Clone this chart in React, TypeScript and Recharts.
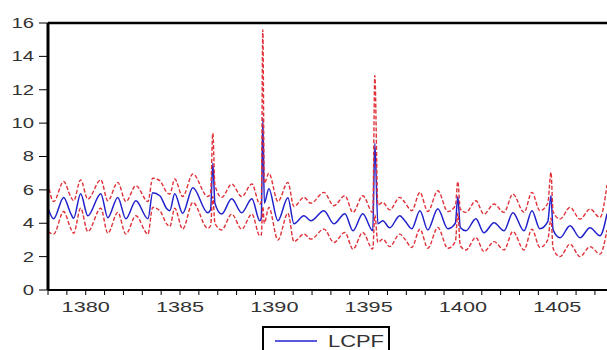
import { LineChart, Line, XAxis, YAxis, ReferenceLine } from 'recharts'

// turning points (year, LCPF, +2 S.E., -2 S.E.)
const years = [
  1378.00, 1378.30, 1378.83, 1379.20, 1379.36, 1379.73, 1380.11, 1380.80, 1381.17, 1381.70,
  1382.13, 1382.66, 1383.30, 1383.55, 1383.93, 1384.30, 1384.46, 1384.72, 1385.14, 1385.68,
  1386.47, 1386.62, 1386.74, 1386.85, 1387.21, 1387.74, 1388.27, 1388.81, 1389.23, 1389.31,
  1389.39, 1389.47, 1389.71, 1390.19, 1390.72, 1391.04, 1391.57, 1391.94, 1392.63, 1393.16,
  1393.74, 1394.17, 1394.69, 1395.22, 1395.33, 1395.49, 1395.75, 1396.12, 1396.65, 1396.92,
  1397.29, 1397.72, 1398.14, 1398.67, 1399.20, 1399.60, 1399.73, 1399.86, 1400.16, 1400.69,
  1401.11, 1401.65, 1402.18, 1402.65, 1403.24, 1403.66, 1404.08, 1404.50, 1404.67, 1404.78,
  1405.15, 1405.68, 1406.21, 1406.74, 1407.27, 1407.64,
]
const lcpf = [
  4.90, 4.27, 5.55, 4.60, 4.30, 5.77, 4.45, 5.77, 4.33, 5.55,
  4.27, 5.35, 4.27, 5.83, 5.65, 4.87, 4.75, 5.77, 4.60, 6.13,
  4.63, 4.80, 7.60, 5.20, 4.55, 5.47, 4.63, 5.47, 4.15, 4.30,
  10.30, 5.20, 6.07, 4.15, 5.53, 3.97, 4.45, 4.15, 4.75, 3.97,
  4.57, 3.55, 4.57, 3.55, 8.80, 3.97, 4.15, 3.73, 4.45, 4.15,
  3.67, 4.75, 3.60, 4.87, 3.67, 4.00, 5.60, 3.75, 3.55, 4.27,
  3.43, 4.03, 3.55, 4.63, 3.55, 4.75, 3.67, 4.10, 5.65, 3.60,
  3.13, 3.85, 3.13, 3.73, 3.25, 4.57,
]
const upper = [
  6.40, 5.30, 6.50, 5.60, 5.35, 6.60, 5.45, 6.60, 5.35, 6.45,
  5.30, 6.25, 5.30, 6.70, 6.55, 5.85, 5.75, 6.65, 5.60, 6.95,
  5.60, 5.80, 9.40, 6.30, 5.55, 6.35, 5.60, 6.35, 5.15, 5.30,
  15.60, 6.40, 7.00, 5.30, 6.45, 5.00, 5.55, 5.20, 5.85, 5.05,
  5.65, 4.65, 5.65, 4.65, 12.85, 5.10, 5.25, 4.80, 5.55, 5.25,
  4.75, 5.85, 4.70, 5.95, 4.70, 5.05, 6.50, 4.85, 4.65, 5.35,
  4.55, 5.15, 4.65, 5.75, 4.65, 5.85, 4.75, 5.20, 7.05, 4.70,
  4.25, 4.95, 4.25, 4.85, 4.35, 6.30,
]
const lower = [
  3.50, 3.35, 4.70, 3.70, 3.40, 4.90, 3.50, 4.90, 3.40, 4.65,
  3.35, 4.45, 3.35, 4.95, 4.75, 3.95, 3.80, 4.90, 3.65, 5.25,
  3.70, 3.85, 5.60, 4.00, 3.60, 4.55, 3.65, 4.55, 3.25, 3.30,
  5.00, 4.00, 4.95, 3.00, 4.60, 2.90, 3.35, 3.05, 3.65, 2.85,
  3.45, 2.45, 3.45, 2.45, 4.50, 2.85, 3.05, 2.60, 3.35, 3.05,
  2.55, 3.65, 2.50, 3.75, 2.50, 2.90, 4.60, 2.65, 2.40, 3.15,
  2.30, 2.90, 2.40, 3.50, 2.40, 3.65, 2.55, 3.00, 4.30, 2.50,
  2.00, 2.75, 2.00, 2.60, 2.15, 3.60,
]

const yTicks = [0, 2, 4, 6, 8, 10, 12, 14, 16]
const xTicks = [
  1378, 1379, 1380, 1381, 1382, 1383, 1384, 1385, 1386, 1387,
  1388, 1389, 1390, 1391, 1392, 1393, 1394, 1395, 1396, 1397,
  1398, 1399, 1400, 1401, 1402, 1403, 1404, 1405, 1406, 1407,
]
const seriesName = 'LCPF'

const data = years.map((x, i) => ({ x, lcpf: lcpf[i], upper: upper[i], lower: lower[i] }))

const FONT = "'Liberation Sans', Arial, sans-serif"
const RED = '#e0323a'
const BLUE = '#2222cc'

function XTick({ x, y, payload }: any) {
  if (payload.value % 5 !== 0) return <g />
  return (
    <text
      transform={`translate(${x},${y}) scale(1.4,1)`}
      textAnchor="middle"
      dy="0.71em"
      fontSize={15.5}
      fontFamily={FONT}
      fill="#333"
    >
      {payload.value}
    </text>
  )
}

function YTick({ x, y, payload }: any) {
  return (
    <text
      transform={`translate(${x},${y}) scale(1.45,1)`}
      textAnchor="end"
      dy="0.355em"
      fontSize={14}
      fontFamily={FONT}
      fill="#333"
    >
      {payload.value}
    </text>
  )
}

export default function App() {
  return (
    <div style={{ position: 'absolute', left: 0, top: 0, width: 607, height: 350, overflow: 'hidden', background: '#fff' }}>
      <LineChart width={607} height={350} data={data} margin={{ top: 23, right: 0, bottom: 30, left: 0 }}>
        <XAxis
          dataKey="x"
          type="number"
          domain={[1378, 1407.64]}
          ticks={xTicks}
          interval={0}
          allowDataOverflow
          height={30}
          tickSize={5}
          tickMargin={6}
          axisLine={{ stroke: '#000', strokeWidth: 2 }}
          tickLine={{ stroke: '#000' }}
          tick={<XTick />}
        />
        <YAxis
          type="number"
          domain={[0, 16]}
          ticks={yTicks}
          interval={0}
          allowDataOverflow
          width={48}
          tickSize={9}
          tickMargin={5}
          axisLine={{ stroke: '#000', strokeWidth: 3 }}
          tickLine={{ stroke: '#000' }}
          tick={<YTick />}
        />
        <ReferenceLine y={16} stroke="#000" strokeWidth={2.5} />
        <Line type="monotone" dataKey="lcpf" stroke={BLUE} strokeWidth={1.5} dot={false} isAnimationActive={false} />
        <Line type="monotone" dataKey="upper" stroke={RED} strokeWidth={1.4} strokeDasharray="4 2" dot={false} isAnimationActive={false} />
        <Line type="monotone" dataKey="lower" stroke={RED} strokeWidth={1.4} strokeDasharray="4 2" dot={false} isAnimationActive={false} />
      </LineChart>
      <svg width={130} height={24} style={{ position: 'absolute', left: 262, top: 326 }}>
        <rect x={1} y={1} width={126} height={40} fill="#fff" stroke="#000" strokeWidth={2} />
        <line x1={13} x2={55} y1={15} y2={15} stroke={BLUE} strokeWidth={1.5} />
        <text x={66} y={21} fontSize={16} fontFamily={FONT} fill="#333" textLength={56} lengthAdjust="spacingAndGlyphs">
          {seriesName}
        </text>
      </svg>
    </div>
  )
}
